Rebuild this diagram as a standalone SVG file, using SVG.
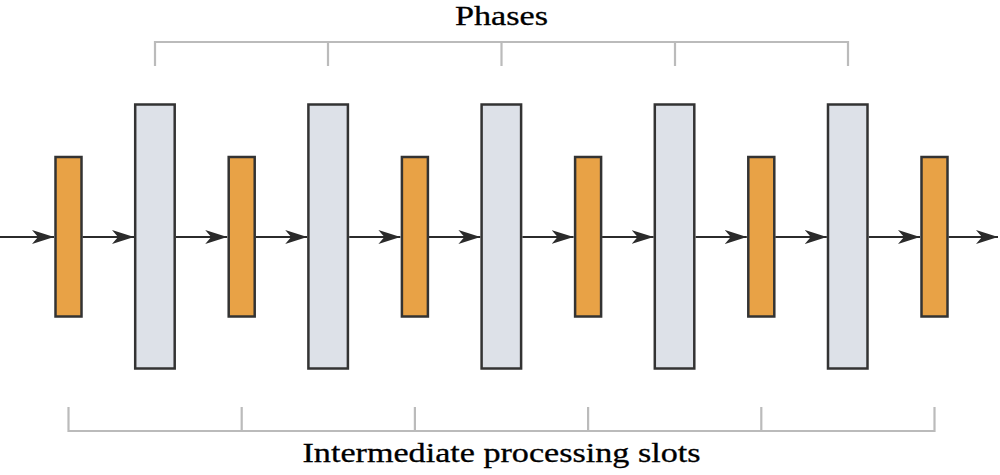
<svg xmlns="http://www.w3.org/2000/svg" width="1000" height="475" viewBox="0 0 1000 475">
<style>
.slot{fill:#E8A246;stroke:#333;stroke-width:2.5}
.phase{fill:#DDE1E8;stroke:#333;stroke-width:2.5}
.br{fill:none;stroke:#BBBBBB;stroke-width:2.2}
.ar{fill:none;stroke:#2B2B2B;stroke-width:2;marker-end:url(#ah)}
.lbl{font-family:"Liberation Serif",serif;font-size:27px;fill:#000;stroke:#000;stroke-width:0.3;text-anchor:middle}
</style>
<defs>
<marker id="ah" markerUnits="userSpaceOnUse" markerWidth="24" markerHeight="16" refX="22" refY="7" orient="auto">
<path d="M0,0 L22,7 L0,14 L6,7 z" fill="#2B2B2B"/>
</marker>
</defs>
<rect width="1000" height="475" fill="#fff"/>
<g id="phases-bracket">
<path class="br" d="M155,66 V42 H848 V66 M328,42 V66 M501.5,42 V66 M675,42 V66"/>
<text class="lbl" x="501.5" y="24.5" textLength="93" lengthAdjust="spacingAndGlyphs">Phases</text>
</g>
<g id="slots-bracket">
<path class="br" d="M68.5,407 V431 H934.5 V407 M241.7,407 V431 M414.9,407 V431 M588.1,407 V431 M761.3,407 V431"/>
<text class="lbl" x="501.5" y="462" textLength="398" lengthAdjust="spacingAndGlyphs">Intermediate processing slots</text>
</g>
<g id="connectors">
<line class="ar" x1="0" y1="237" x2="54" y2="237"/>
<line class="ar" x1="82.5" y1="237" x2="134" y2="237"/>
<line class="ar" x1="176" y1="237" x2="227.2" y2="237"/>
<line class="ar" x1="255.7" y1="237" x2="307.2" y2="237"/>
<line class="ar" x1="349.2" y1="237" x2="400.4" y2="237"/>
<line class="ar" x1="428.9" y1="237" x2="480.4" y2="237"/>
<line class="ar" x1="522.4" y1="237" x2="573.6" y2="237"/>
<line class="ar" x1="602.1" y1="237" x2="653.6" y2="237"/>
<line class="ar" x1="695.6" y1="237" x2="746.8" y2="237"/>
<line class="ar" x1="775.3" y1="237" x2="826.8" y2="237"/>
<line class="ar" x1="868.8" y1="237" x2="920" y2="237"/>
<line class="ar" x1="948.5" y1="237" x2="998" y2="237"/>
</g>
<g id="slot1"><rect class="slot" x="55.5" y="157" width="26" height="159.5"/></g>
<g id="phase1"><rect class="phase" x="135.2" y="104.5" width="39.5" height="264"/></g>
<g id="slot2"><rect class="slot" x="228.7" y="157" width="26" height="159.5"/></g>
<g id="phase2"><rect class="phase" x="308.4" y="104.5" width="39.5" height="264"/></g>
<g id="slot3"><rect class="slot" x="401.9" y="157" width="26" height="159.5"/></g>
<g id="phase3"><rect class="phase" x="481.6" y="104.5" width="39.5" height="264"/></g>
<g id="slot4"><rect class="slot" x="575.1" y="157" width="26" height="159.5"/></g>
<g id="phase4"><rect class="phase" x="654.8" y="104.5" width="39.5" height="264"/></g>
<g id="slot5"><rect class="slot" x="748.3" y="157" width="26" height="159.5"/></g>
<g id="phase5"><rect class="phase" x="828" y="104.5" width="39.5" height="264"/></g>
<g id="slot6"><rect class="slot" x="921.5" y="157" width="26" height="159.5"/></g>
</svg>
